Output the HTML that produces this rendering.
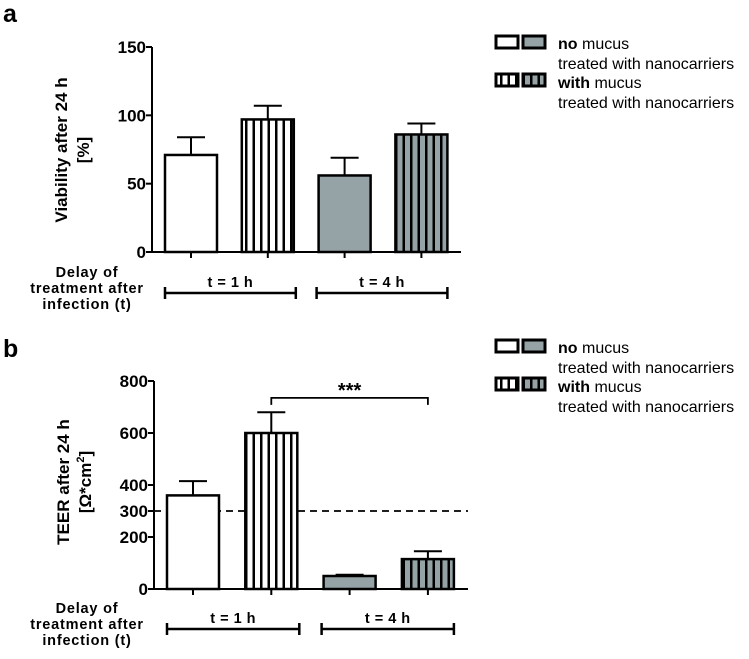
<!DOCTYPE html>
<html><head><meta charset="utf-8"><style>
body{margin:0;background:#fff;}
svg text{font-family:"Liberation Sans",Arial,sans-serif;}
</style></head><body>
<svg id="fig" width="749" height="654" xmlns="http://www.w3.org/2000/svg">
<defs>
<pattern id="stripeW" patternUnits="userSpaceOnUse" width="7.5" height="10"><rect width="7.5" height="10" fill="#fff"/><rect x="5" width="2.5" height="10" fill="#000"/></pattern>
<pattern id="stripeG" patternUnits="userSpaceOnUse" width="7.5" height="10"><rect width="7.5" height="10" fill="#95a3a7"/><rect x="5" width="2.5" height="10" fill="#000"/></pattern>
</defs>
<g id="root"></g>
</svg>
<script>
const aValues=[71,97,56,86];
const aErrors=[84,107,69,94];
const aTicks=[0,50,100,150];
const bValues=[360,600,50,115];
const bErrors=[415,680,55,145];
const bTicks=[0,200,300,400,600,800];
const fills=['#fff','url(#stripeW)','#95a3a7','url(#stripeG)'];
const groupLabels=['t = 1 h','t = 4 h'];
const NS='http://www.w3.org/2000/svg';
const root=document.getElementById('root');
function el(tag,attrs,parent){const e=document.createElementNS(NS,tag);for(const k in attrs)e.setAttribute(k,attrs[k]);(parent||root).appendChild(e);return e;}
function txt(s,attrs,parent){const t=el('text',attrs,parent);t.textContent=s;return t;}

function panel(cfg){
  const g=el('g',{});
  
  
  const y=v=>cfg.y0-(v/cfg.max)*(cfg.y0-cfg.yTop);
  txt(cfg.letter,{x:3,y:cfg.letterY,'font-size':25,'font-weight':'bold'},g);
  if(cfg.dash!==undefined){const d=el('line',{x1:cfg.ax,x2:cfg.axEnd,y1:y(cfg.dash),y2:y(cfg.dash),stroke:'#000','stroke-width':1.8,'stroke-dasharray':'7,5'},g);
    }
  const ya=el('line',{x1:cfg.ax,x2:cfg.ax,y1:cfg.yTop,y2:cfg.y0,stroke:'#000','stroke-width':2},g);
  
  const xa=el('line',{x1:cfg.ax,x2:cfg.axEnd,y1:cfg.y0,y2:cfg.y0,stroke:'#000','stroke-width':2},g);
  
  cfg.ticks.forEach(t=>{
    el('line',{x1:cfg.ax-6,x2:cfg.ax,y1:y(t),y2:y(t),stroke:'#000','stroke-width':2},g);
    const l=txt(String(t),{x:cfg.ax-6,y:y(t)+6,'font-size':17,'font-weight':'bold','text-anchor':'end'},g);
    
  });
  const yl=txt(cfg.ylab1,{transform:`translate(${cfg.ylx},${cfg.ylcy}) rotate(-90)`,'font-size':17,'font-weight':'bold','text-anchor':'middle'},g);
  
  const yl2=el('text',{transform:`translate(${cfg.ylx+22},${cfg.ylcy}) rotate(-90)`,'font-size':17,'font-weight':'bold','text-anchor':'middle'},g);
  yl2.innerHTML=cfg.ylab2;
  
  cfg.values.forEach((v,i)=>{
    const cx=cfg.x0+i*cfg.step, w=52;
    const eb=el('g',{},g);
    
    el('line',{x1:cx,x2:cx,y1:y(v),y2:y(cfg.errors[i]),stroke:'#000','stroke-width':2},eb);
    el('line',{x1:cx-14,x2:cx+14,y1:y(cfg.errors[i]),y2:y(cfg.errors[i]),stroke:'#000','stroke-width':2},eb);
    const r=el('rect',{x:cx-w/2,y:y(v),width:w,height:cfg.y0-y(v),fill:fills[i],stroke:'#000','stroke-width':2.5},g);
    
    el('line',{x1:cx,x2:cx,y1:cfg.y0,y2:cfg.y0+6,stroke:'#000','stroke-width':2},g);
  });
  groupLabels.forEach((lab,k)=>{
    const x1=cfg.x0-26+k*2*cfg.step-(k?2:0), x2=cfg.x0+cfg.step+26+k*2*cfg.step+(k?0:2);
    const bg=el('g',{},g);
    
    el('line',{x1:x1,x2:x2,y1:cfg.gy,y2:cfg.gy,stroke:'#000','stroke-width':2.5},bg);
    el('line',{x1:x1,x2:x1,y1:cfg.gy-6,y2:cfg.gy+6,stroke:'#000','stroke-width':2.5},bg);
    el('line',{x1:x2,x2:x2,y1:cfg.gy-6,y2:cfg.gy+6,stroke:'#000','stroke-width':2.5},bg);
    txt(lab,{x:(x1+x2)/2,y:cfg.gy-6,'font-size':14.5,'font-weight':'bold','text-anchor':'middle','letter-spacing':'0.5'},bg);
  });
  const dl=el('g',{},g);
  
  ['Delay of','treatment after','infection (t)'].forEach((s,j)=>txt(s,{x:87,y:cfg.gy-16+j*16,'font-size':14.5,'font-weight':'bold','text-anchor':'middle','letter-spacing':'0.8'},dl));
  if(cfg.sig){
    const sg=el('g',{},g);
    
    const sy=y(cfg.sig.level), xa1=cfg.x0+cfg.step*cfg.sig.from, xa2=cfg.x0+cfg.step*cfg.sig.to;
    el('polyline',{points:`${xa1},${sy+7} ${xa1},${sy} ${xa2},${sy} ${xa2},${sy+7}`,fill:'none',stroke:'#000','stroke-width':1.8},sg);
    txt('***',{x:(xa1+xa2)/2,y:sy-1,'font-size':20,'font-weight':'bold','text-anchor':'middle'},sg);
  }
  const lg=el('g',{},g);
  
  const ly=cfg.legY;
  el('rect',{x:496,y:ly,width:22,height:12,fill:'#fff',stroke:'#000','stroke-width':3},lg);
  el('rect',{x:523,y:ly,width:22,height:12,fill:'#95a3a7',stroke:'#000','stroke-width':3},lg);
  el('rect',{x:496,y:ly+38,width:22,height:12,fill:'url(#stripeW)',stroke:'#000','stroke-width':3},lg);
  el('rect',{x:523,y:ly+38,width:22,height:12,fill:'url(#stripeG)',stroke:'#000','stroke-width':3},lg);
  const t1=el('text',{x:558,y:ly+13,'font-size':16},lg);t1.innerHTML='<tspan font-weight="bold">no</tspan> mucus';
  txt('treated with nanocarriers',{x:558,y:ly+33,'font-size':16},lg);
  const t2=el('text',{x:558,y:ly+52,'font-size':16},lg);t2.innerHTML='<tspan font-weight="bold">with</tspan> mucus';
  txt('treated with nanocarriers',{x:558,y:ly+72,'font-size':16},lg);
}
panel({name:'panel-a',letter:'a',letterY:22,values:aValues,errors:aErrors,ticks:aTicks,max:150,yTop:47,y0:252,ax:152,axEnd:461,x0:191,step:76.8,gy:293,ylab1:'Viability after 24 h',ylab2:'[%]',ylx:67,ylcy:150,legY:36});
panel({name:'panel-b',letter:'b',letterY:357,values:bValues,errors:bErrors,ticks:bTicks,max:800,yTop:381,y0:589,ax:154,axEnd:468,x0:193,step:78.3,gy:629,ylab1:'TEER after 24 h',ylab2:'[Ω*cm<tspan dy="-7" font-size="11">2</tspan><tspan dy="7">]</tspan>',ylx:69,ylcy:482,legY:340,dash:300,sig:{level:735,from:1,to:3}});
</script>
</body></html>
